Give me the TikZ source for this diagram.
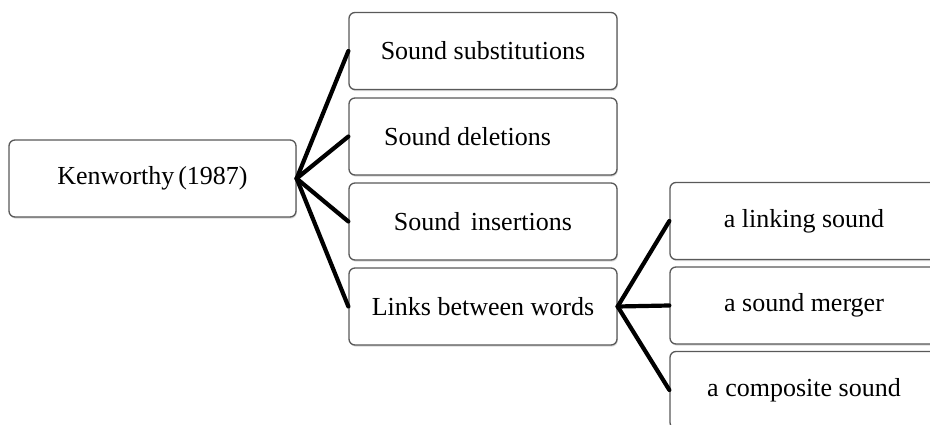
\documentclass[tikz,border=0pt]{standalone}
\usepackage{fontspec}
\setmainfont{Liberation Serif}
\usetikzlibrary{shadows}
\tikzset{
  tbox/.style={draw=black!65, line width=1.3pt, rounded corners=6pt, fill=white,
    minimum height=77pt, inner sep=0pt,
    font=\fontsize{26}{30}\selectfont,
    drop shadow={shadow xshift=0.8pt, shadow yshift=-1.6pt, opacity=0.3}},
  conn/.style={line width=4.2pt, black, line cap=round}
}
\begin{document}
\begin{tikzpicture}[x=1pt,y=-1pt]
\useasboundingbox (0,0) rectangle (930,425);
\node[tbox, minimum width=287pt] (ken) at (152.5,178.5) {Kenworthy\kern4pt(1987)};
\node[tbox, minimum width=268pt] (sub) at (483,51) {Sound substitutions};
\node[tbox, minimum width=268pt] (del) at (483,136.5) {Sound deletions\hspace*{31pt}};
\node[tbox, minimum width=268pt] (ins) at (483,221.5) {Sound \kern4pt insertions};
\node[tbox, minimum width=268pt] (lnk) at (483,306.5) {Links between words};
\node[tbox, minimum width=268pt] (lks) at (804,221) {a linking sound};
\node[tbox, minimum width=268pt] (mrg) at (804,305.5) {a sound merger};
\node[tbox, minimum width=268pt] (cmp) at (804,390) {a composite sound};
\draw[conn] (ken.east) -- (sub.west);
\draw[conn] (ken.east) -- (del.west);
\draw[conn] (ken.east) -- (ins.west);
\draw[conn] (ken.east) -- (lnk.west);
\draw[conn] (lnk.east) -- (lks.west);
\draw[conn] (lnk.east) -- (mrg.west);
\draw[conn] (lnk.east) -- (cmp.west);
\end{tikzpicture}
\end{document}
